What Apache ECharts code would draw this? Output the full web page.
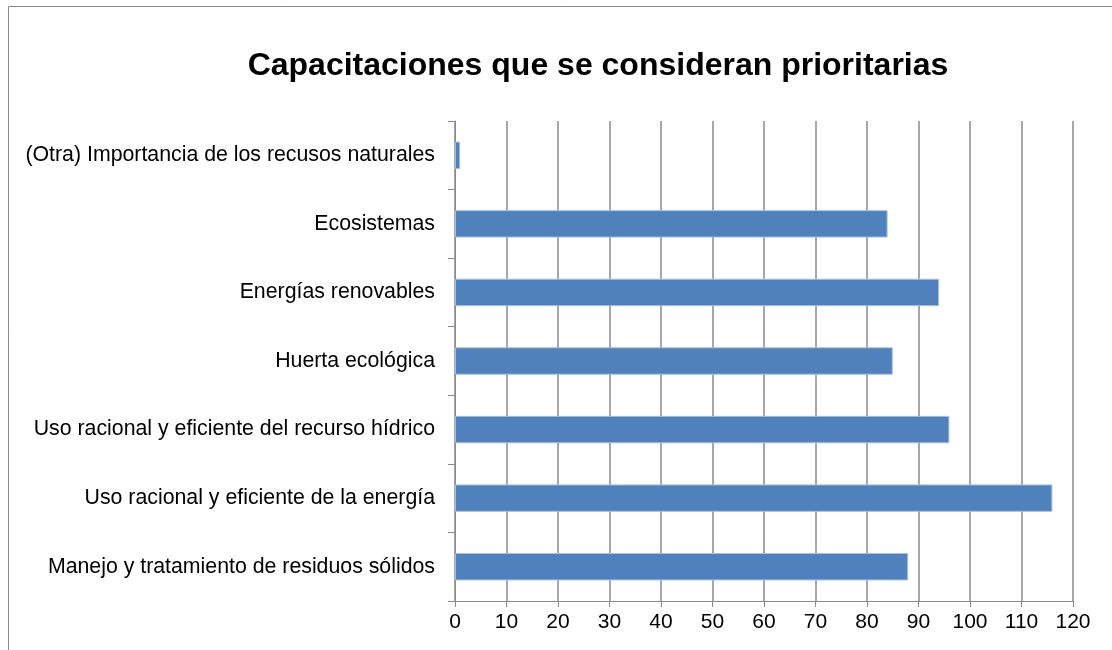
<!DOCTYPE html>
<html>
<head>
<meta charset="utf-8">
<script src="https://cdn.jsdelivr.net/npm/echarts@6/dist/echarts.min.js"></script>
<style>
html,body{margin:0;padding:0;background:#fff;}
#chart{width:1112px;height:650px;}
</style>
</head>
<body>
<div id="chart"></div>
<script>
const titleText = 'Capacitaciones que se consideran prioritarias';
const categories = [
  'Manejo y tratamiento de residuos sólidos',
  'Uso racional y eficiente de la energía',
  'Uso racional y eficiente del recurso hídrico',
  'Huerta ecológica',
  'Energías renovables',
  'Ecosistemas',
  '(Otra) Importancia de los recusos naturales'
];
const values = [88, 116, 96, 85, 94, 84, 1];
const axisMin = 0, axisMax = 120, axisStep = 10;

const chart = echarts.init(document.getElementById('chart'), null, {renderer: 'canvas'});
const font = 'Liberation Sans, Arial, sans-serif';
const gray = '#8a8a8a';
chart.setOption({
  animation: false,
  backgroundColor: '#ffffff',
  graphic: [{
    type: 'rect', silent: true, z: -1,
    shape: {x: 8.5, y: 6.5, width: 1300, height: 900},
    style: {fill: 'none', stroke: '#8c8c8c', lineWidth: 1}
  }],
  title: {
    text: titleText,
    left: 593, top: 45, textAlign: 'center',
    textStyle: {fontFamily: font, fontSize: 32, fontWeight: 'bold', color: '#000'}
  },
  grid: {left: 455, right: 39, top: 121, bottom: 49, containLabel: false},
  xAxis: {
    type: 'value', min: axisMin, max: axisMax, interval: axisStep,
    axisLine: {show: true, lineStyle: {color: gray, width: 1}},
    axisTick: {show: true, length: 6, lineStyle: {color: gray}},
    splitLine: {show: true, lineStyle: {color: gray, width: 1.5}},
    axisLabel: {fontFamily: font, fontSize: 21, color: '#000', margin: 11}
  },
  yAxis: {
    type: 'category', data: categories,
    axisLine: {show: true, lineStyle: {color: gray, width: 1}},
    axisTick: {show: true, length: 7, alignWithLabel: false, lineStyle: {color: gray}},
    axisLabel: {fontFamily: font, fontSize: 21.3, color: '#000', margin: 20}
  },
  series: [{
    type: 'bar', data: values, barWidth: '40%',
    itemStyle: {color: '#4f81bd', borderColor: '#a7c0e0', borderWidth: 1}
  }]
});
</script>
</body>
</html>
